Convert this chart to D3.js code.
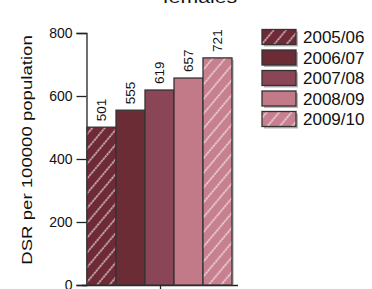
<!DOCTYPE html>
<html><head><meta charset="utf-8">
<script src="https://cdn.jsdelivr.net/npm/d3@7"></script>
<style>body{margin:0;background:#fff}svg{display:block}text{font-family:"Liberation Sans",Arial,sans-serif}</style>
</head><body>
<script>
const title = "females";
const yLabel = "DSR per 100000 population";
const categories = ["2005/06","2006/07","2007/08","2008/09","2009/10"];
const values = [501,555,619,657,721];
const colors = ["#6e2b37","#6b2c35","#8a4556","#c27a89","#c7808f"];
const hatched = [true,false,false,false,true];
const yTicks = [0,200,400,600,800];

const W=372,H=289;
const svg=d3.select("body").append("svg").attr("width",W).attr("height",H);
const defs=svg.append("defs");
colors.forEach((c,i)=>{
  const p=defs.append("pattern").attr("id","h"+i).attr("patternUnits","userSpaceOnUse")
    .attr("width",9.5).attr("height",9).attr("patternTransform","rotate(40)");
  p.append("rect").attr("width",9.5).attr("height",9).attr("fill",c);
  p.append("line").attr("x1",1).attr("y1",0).attr("x2",1).attr("y2",9)
    .attr("stroke","#fff").attr("stroke-opacity",0.85).attr("stroke-width",1.2).attr("stroke-dasharray","2.5,0.5");
});
const fill=i=>hatched[i]?`url(#h${i})`:colors[i];

const y=d3.scaleLinear().domain([0,800]).range([285,33]);
const x=d3.scaleBand().domain(categories).range([87,232]).padding(0);

// title
svg.append("text").attr("transform","translate(200,3) scale(1.25,1)").attr("text-anchor","middle")
  .attr("font-size",17).attr("fill","#111").text(title);

// y axis
const ga=svg.append("g").attr("transform","translate(86.5,0)")
  .call(d3.axisLeft(y).tickValues(yTicks).tickSize(10).tickPadding(4));
ga.select(".domain").attr("stroke","#222").attr("stroke-width",1.3);
ga.selectAll(".tick line").attr("stroke","#222").attr("stroke-width",1.3);
ga.selectAll("text").attr("font-size",14).attr("fill","#111").attr("font-family","Liberation Sans, Arial, sans-serif");

svg.append("text").attr("transform","translate(32,150) rotate(-90) scale(1.2,1)").attr("text-anchor","middle")
  .attr("font-size",15.5).attr("fill","#111").text(yLabel);

// x axis
const xa=svg.append("g").attr("transform","translate(0,285.5)");
const xm=(x.range()[0]+x.range()[1])/2+1;
xa.append("line").attr("x1",82).attr("x2",238).attr("stroke","#222").attr("stroke-width",1.3);
xa.append("line").attr("x1",xm).attr("x2",xm).attr("y1",0).attr("y2",5).attr("stroke","#222").attr("stroke-width",1.3);

// shadows
svg.append("g").selectAll("rect").data(values).join("rect")
  .attr("x",(d,i)=>x(categories[i])+2).attr("y",d=>y(d)+2)
  .attr("width",x.bandwidth()).attr("height",d=>y(0)-y(d)-2).attr("fill","#999").attr("opacity",0.5);
// bars
svg.append("g").selectAll("rect").data(values).join("rect")
  .attr("x",(d,i)=>x(categories[i])).attr("y",d=>y(d))
  .attr("width",x.bandwidth()).attr("height",d=>y(0)-y(d))
  .attr("fill",(d,i)=>fill(i)).attr("stroke","#333").attr("stroke-width",1.3);
// value labels
svg.append("g").selectAll("text").data(values).join("text")
  .attr("transform",(d,i)=>`translate(${x(categories[i])+x.bandwidth()/2+4.5},${y(d)-6}) rotate(-90)`)
  .attr("font-size",13.5).attr("fill","#111").text(d=>d);

// legend
const lg=svg.append("g");
categories.forEach((c,i)=>{
  const yy=29.5+i*20.5;
  lg.append("rect").attr("x",264).attr("y",yy+2).attr("width",34).attr("height",15).attr("fill","#888").attr("opacity",0.6);
  lg.append("rect").attr("x",262).attr("y",yy).attr("width",34).attr("height",15)
    .attr("fill",fill(i)).attr("stroke","#333").attr("stroke-width",1.3);
  lg.append("text").attr("x",303).attr("y",yy+13.5).attr("font-size",17)
    .attr("fill","#111").text(c);
});
</script>
</body></html>
